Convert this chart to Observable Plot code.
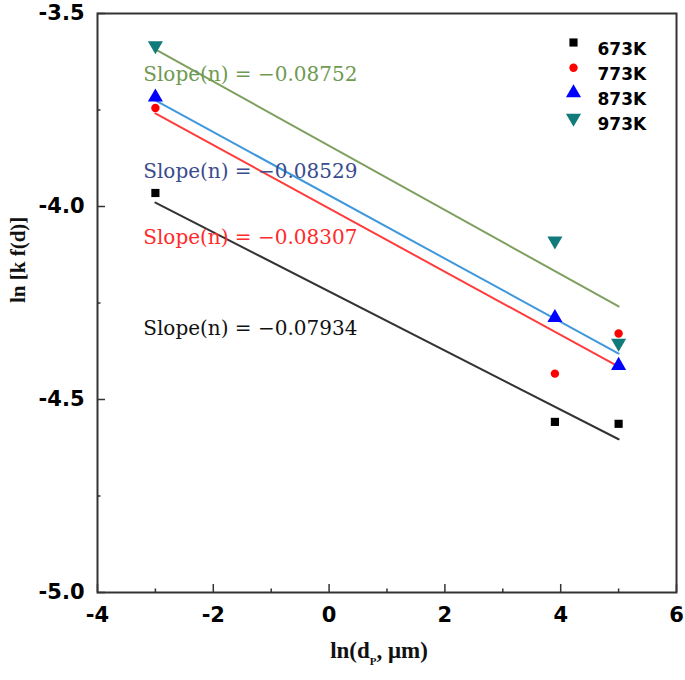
<!DOCTYPE html>
<html><head><meta charset="utf-8">
<script src="https://cdn.jsdelivr.net/npm/d3@7"></script>
<script src="https://cdn.jsdelivr.net/npm/@observablehq/plot@0.6"></script>
<style>body{margin:0;background:#fff} #chart{width:685px;height:680px}</style>
</head><body><div id="chart"></div>
<script>
// ---- data ----
const series = ["673K", "773K", "873K", "973K"];
const xVals = [-3, 3.9, 5];
const y673 = [-3.965, -4.558, -4.563];
const y773 = [-3.745, -4.433, -4.329];
const y873 = [-3.717, -4.288, -4.412];
const y973 = [-3.583, -4.089, -4.354];
const fitX = [-3, 5];
const fit673 = [-3.990, -4.603];
const fit773 = [-3.759, -4.415];
const fit873 = [-3.725, -4.381];
const fit973 = [-3.593, -4.259];
const slopeText = ["Slope(n) = \u22120.07934", "Slope(n) = \u22120.08307", "Slope(n) = \u22120.08529", "Slope(n) = \u22120.08752"];
const slopeLabelX = [-3.21, -3.21, -3.21, -3.21];
const slopeLabelY = [-4.316, -4.080, -3.909, -3.658];
const xTicks = [-4, -2, 0, 2, 4, 6];
const xMinor = [-3, -1, 1, 3, 5];
const yTicks = [-5.0, -4.5, -4.0, -3.5];
const yMinor = [-4.75, -4.25, -3.75];
const xTitle = "ln(d, \u03bcm)";
const yTitle = "ln [k f(d)]";

// ---- styling ----
const W = 685, H = 680, mL = 97, mR = 9, mT = 13, mB = 88;
const innerW = W - mL - mR, innerH = H - mT - mB;
const triDown = {
  draw(context, size) {
    const s3 = Math.sqrt(3);
    const y = -Math.sqrt(size / (s3 * 3));
    context.moveTo(0, -y * 2);
    context.lineTo(-s3 * y, y);
    context.lineTo(s3 * y, y);
    context.closePath();
  }
};
const yData = [y673, y773, y873, y973];
const fitData = [fit673, fit773, fit873, fit973];
const markerFill = ["#000000", "#ff0000", "#0000ff", "#117a7a"];
const lineStroke = ["#333333", "#ff3b3b", "#3f98dc", "#7da05e"];
const labelFill = ["#111111", "#ff2a2a", "#3a4c8e", "#6f9a52"];
const symbols = ["square", "circle", "triangle", triDown];
const radii = [4.6, 4.2, 5.6, 5.6];

const points = [];
series.forEach((s, i) => xVals.forEach((x, j) => points.push({s, i, x, y: yData[i][j]})));
const fits = [];
series.forEach((s, i) => fitX.forEach((x, j) => fits.push({s, i, x, y: fitData[i][j]})));
const labels = series.map((s, i) => ({s, i, x: slopeLabelX[i], y: slopeLabelY[i], t: slopeText[i]}));

const marks = [
  Plot.frame({stroke: "#333", strokeWidth: 2}),
  Plot.tickY(yTicks, {y: d => d, insetRight: innerW - 8, stroke: "#333", strokeWidth: 1.5}),
  Plot.tickY(yMinor, {y: d => d, insetRight: innerW - 3.5, stroke: "#333", strokeWidth: 1.5}),
  Plot.tickX(xTicks, {x: d => d, insetTop: innerH - 8, stroke: "#333", strokeWidth: 1.5}),
  Plot.tickX(xMinor, {x: d => d, insetTop: innerH - 3.5, stroke: "#333", strokeWidth: 1.5}),
  Plot.axisY({ticks: yTicks, tickSize: 0, tickPadding: 13, tickFormat: d => d.toFixed(1), label: null,
    fontSize: 21, fontWeight: "bold", fontFamily: "DejaVu Sans", fill: "#000"}),
  Plot.axisX({ticks: xTicks, tickSize: 0, tickPadding: 15, tickFormat: d => String(d), label: null,
    fontSize: 21, fontWeight: "bold", fontFamily: "DejaVu Sans", fill: "#000"})
];
series.forEach((s, i) => {
  marks.push(Plot.line(fits.filter(d => d.i === i), {x: "x", y: "y", stroke: lineStroke[i], strokeWidth: 2}));
});
series.forEach((s, i) => {
  marks.push(Plot.dot(points.filter(d => d.i === i), {x: "x", y: "y", symbol: symbols[i], r: radii[i], fill: markerFill[i], stroke: "none"}));
});
series.forEach((s, i) => {
  marks.push(Plot.text(labels.filter(d => d.i === i), {x: "x", y: "y", text: "t", textAnchor: "start",
    fill: labelFill[i], fontSize: 20, fontFamily: "DejaVu Serif"}));
});
// legend
series.forEach((s, i) => {
  marks.push(Plot.dot([s], {frameAnchor: "top-right", dx: -103, dy: 29 + 25.2 * i, symbol: symbols[i],
    r: radii[i], fill: markerFill[i], stroke: "none"}));
  marks.push(Plot.text([s], {frameAnchor: "top-right", dx: -79, dy: 29 + 25.2 * i, textAnchor: "start",
    fontSize: 17, fontWeight: "bold", fontFamily: "DejaVu Sans", fill: "#000"}));
});
// axis titles
marks.push(Plot.text([yTitle], {frameAnchor: "left", dx: -79, rotate: -90, fontSize: 21, fontWeight: "bold",
  fontFamily: "Liberation Serif", fill: "#111"}));
marks.push(Plot.text([xTitle], {frameAnchor: "bottom", dx: -8, dy: 65, fontSize: 23, fontWeight: "bold",
  fontFamily: "Liberation Serif", fill: "#111"}));

const chart = Plot.plot({
  width: W, height: H,
  marginLeft: mL, marginRight: mR, marginTop: mT, marginBottom: mB,
  x: {domain: [-4, 6]},
  y: {domain: [-5, -3.5]},
  style: {background: "#fff", overflow: "visible"},
  marks
});
document.getElementById("chart").appendChild(chart);

// subscript p in x title
d3.select(chart).selectAll("text").filter(function () { return this.textContent === xTitle; })
  .each(function () {
    const t = d3.select(this);
    t.text(null);
    t.append("tspan").text("ln(d");
    t.append("tspan").attr("dy", 7).attr("font-size", 11).text("P");
    t.append("tspan").attr("dy", -7).text(", \u03bcm)");
  });
</script></body></html>
